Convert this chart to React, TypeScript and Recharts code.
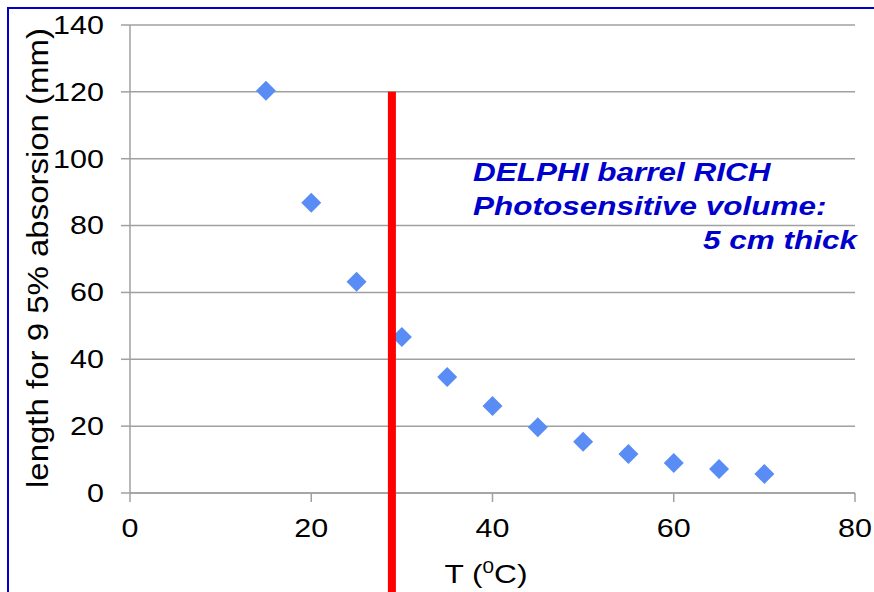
import React from 'react';
import { ScatterChart, Scatter, XAxis, YAxis, CartesianGrid, ReferenceLine, Customized } from 'recharts';

const temperatures = [15, 20, 25, 30, 35, 40, 45, 50, 55, 60, 65, 70];
const lengths = [120.3, 86.8, 63.2, 46.7, 34.7, 26.0, 19.7, 15.3, 11.7, 9.0, 7.2, 5.7];
const xTicks = [0, 20, 40, 60, 80];
const yTicks = [0, 20, 40, 60, 80, 100, 120, 140];
const thresholdT = 28.9;
const thresholdTop = 120;
const thresholdBottom = -30;
const annotationLines = ['DELPHI barrel RICH', 'Photosensitive volume:', '5 cm thick'];
const yLabel = 'length for 9 5% absorsion (mm)';

const data = temperatures.map((t, i) => ({ t, len: lengths[i] }));

const FONT = '"Liberation Sans", Arial, sans-serif';
const SX = 1.22;
const GRID = '#a0a0a0';

const YTick = (props: any) => {
  const { x, y, payload } = props;
  return (
    <g transform={`translate(${x},${y})`}>
      <text transform={`scale(${SX},1)`} textAnchor="end" dy="0.355em" fontSize={25} fill="#000" fontFamily={FONT}>
        {payload.value}
      </text>
    </g>
  );
};

const XTick = (props: any) => {
  const { x, y, payload } = props;
  return (
    <g transform={`translate(${x},${y})`}>
      <text transform={`scale(${SX},1)`} textAnchor="middle" dy="0.71em" fontSize={25} fill="#000" fontFamily={FONT}>
        {payload.value}
      </text>
    </g>
  );
};

const Diamond = (props: any) => {
  const { cx, cy } = props;
  const r = 10;
  return <polygon points={`${cx},${cy - r} ${cx + r},${cy} ${cx},${cy + r} ${cx - r},${cy}`} fill="#5a8cf5" />;
};

const Texts = () => (
  <g fontFamily={FONT}>
    <g transform="translate(48,258) scale(1.22,1) rotate(-90)">
      <text textAnchor="middle" fontSize={24} fill="#000" textLength={460} lengthAdjust="spacingAndGlyphs">
        {yLabel}
      </text>
    </g>
    <g transform="translate(486,583) scale(1.22,1)">
      <text textAnchor="middle" fontSize={26} fill="#000">
        T (<tspan fontSize={17} dy={-10}>0</tspan><tspan dy={10}>C)</tspan>
      </text>
    </g>
    <g transform="translate(473,181) scale(1.26,1)">
      <text fontSize={25} fontWeight="bold" fontStyle="italic" fill="#0000cc">{annotationLines[0]}</text>
    </g>
    <g transform="translate(473,215) scale(1.26,1)">
      <text fontSize={25} fontWeight="bold" fontStyle="italic" fill="#0000cc">{annotationLines[1]}</text>
    </g>
    <g transform="translate(857,249) scale(1.26,1)">
      <text textAnchor="end" fontSize={25} fontWeight="bold" fontStyle="italic" fill="#0000cc">{annotationLines[2]}</text>
    </g>
  </g>
);

export default function App() {
  return (
    <div style={{ position: 'absolute', left: 0, top: 0, width: 874, height: 592, overflow: 'hidden', background: '#fff' }}>
      <div style={{ position: 'absolute', left: 7, top: 7, width: 1000, height: 1000, border: '2px solid #0000cc', boxSizing: 'border-box' }} />
      <div style={{ position: 'absolute', left: 0, top: 0 }}>
        <ScatterChart width={874} height={592} margin={{ top: 25, right: 19, bottom: 0, left: 0 }}>
          <CartesianGrid vertical={false} stroke={GRID} strokeWidth={1.5} />
          <XAxis
            type="number"
            dataKey="t"
            domain={[0, 80]}
            ticks={xTicks}
            height={99}
            tickSize={9}
            tickMargin={17}
            tick={<XTick />}
            stroke={GRID}
            strokeWidth={1.5}
            tickLine={{ stroke: GRID, strokeWidth: 1.5 }}
            axisLine={{ stroke: GRID, strokeWidth: 1.5 }}
          />
          <YAxis
            type="number"
            dataKey="len"
            domain={[0, 140]}
            ticks={yTicks}
            width={130}
            tickSize={9}
            tickMargin={17}
            tick={<YTick />}
            stroke={GRID}
            strokeWidth={1.5}
            tickLine={{ stroke: GRID, strokeWidth: 1.5 }}
            axisLine={{ stroke: GRID, strokeWidth: 1.5 }}
          />
          <Scatter data={data} shape={<Diamond />} isAnimationActive={false} zIndex={100} />
          <ReferenceLine
            segment={[{ x: thresholdT, y: thresholdTop }, { x: thresholdT, y: thresholdBottom }]}
            stroke="#ff0000"
            strokeWidth={8}
            ifOverflow="visible"
            zIndex={2000}
          />
          <Customized component={Texts} />
        </ScatterChart>
      </div>
    </div>
  );
}
